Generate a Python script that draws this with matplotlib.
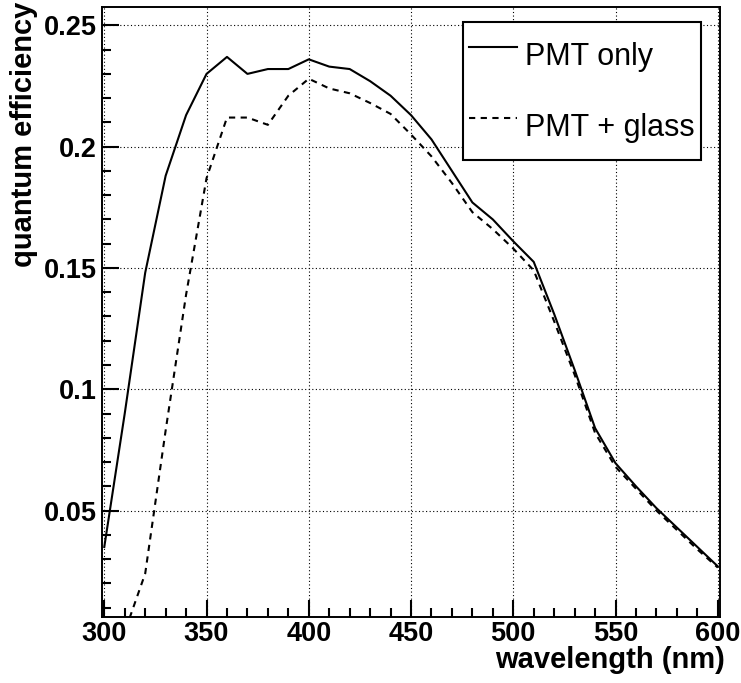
import matplotlib
matplotlib.use('Agg')
import matplotlib.pyplot as plt
from matplotlib.ticker import MultipleLocator, FuncFormatter

plt.rcParams['font.family'] = ['Liberation Sans', 'DejaVu Sans']

# quantum efficiency vs wavelength, bare PMT and PMT behind glass
wavelength = [300, 310, 320, 330, 340, 350, 360, 370, 380, 390, 400,
              410, 420, 430, 440, 450, 460, 470, 480, 490, 500,
              510, 520, 530, 540, 550, 560, 570, 580, 590, 600]
qe_pmt = [0.035, 0.090, 0.148, 0.188, 0.213, 0.230, 0.237, 0.230, 0.232, 0.232, 0.236,
          0.233, 0.232, 0.227, 0.221, 0.213, 0.203, 0.190, 0.177, 0.170, 0.161,
          0.1525, 0.131, 0.108, 0.084, 0.0695, 0.060, 0.051, 0.043, 0.035, 0.027]
qe_glass = [0.0, 0.0, 0.024, 0.083, 0.139, 0.187, 0.212, 0.212, 0.209, 0.221, 0.228,
            0.224, 0.222, 0.218, 0.2135, 0.205, 0.196, 0.185, 0.173, 0.166, 0.158,
            0.149, 0.128, 0.106, 0.082, 0.068, 0.059, 0.050, 0.042, 0.034, 0.0265]
labels = ['PMT only', 'PMT + glass']

fig = plt.figure(figsize=(7.41, 6.83), dpi=100)
ax = fig.add_axes([0.1377, 0.0962, 0.834, 0.894])

ax.plot(wavelength, qe_pmt, color='black', lw=1.5, label=labels[0])
ax.plot(wavelength, qe_glass, color='black', lw=1.5, linestyle=(0, (3, 2.6)), label=labels[1])

ax.set_xlim(298.9, 601.1)
ax.set_ylim(0.006, 0.2577)

ax.xaxis.set_major_locator(MultipleLocator(50))
ax.xaxis.set_minor_locator(MultipleLocator(10))
ax.yaxis.set_major_locator(MultipleLocator(0.05))
ax.yaxis.set_minor_locator(MultipleLocator(0.01))
ax.yaxis.set_major_formatter(FuncFormatter(lambda v, p: '%g' % round(v, 3)))

ax.tick_params(which='both', direction='in', top=False, right=False, width=1.5, color='black')
ax.tick_params(which='major', length=12.5)
ax.tick_params(which='minor', length=6.5)
ax.tick_params(axis='x', which='major', pad=3, labelsize=19.5)
ax.tick_params(axis='y', which='major', pad=3.5, labelsize=19.5)
for lab in ax.get_xticklabels() + ax.get_yticklabels():
    lab.set_fontweight('bold')

for s in ax.spines.values():
    s.set_linewidth(1.4)

ax.grid(True, which='major', color='black', lw=0.8, linestyle=(0, (1, 2.2)))

ax.set_xlabel('wavelength (nm)', fontsize=21, fontweight='bold', ha='right')
ax.xaxis.set_label_coords(1.008, -0.047)
ax.set_ylabel('quantum efficiency', fontsize=21, fontweight='bold', ha='right')
ax.yaxis.set_label_coords(-0.1036, 1.0077)

leg = ax.legend(loc='upper left', bbox_to_anchor=(0.5837, 0.975), borderaxespad=0,
                fontsize=22, fancybox=False, framealpha=1, edgecolor='black',
                handlelength=1.57, handleheight=2.4, handletextpad=0.26,
                labelspacing=0.52, borderpad=0.2)
leg.get_frame().set_linewidth(1.5)

plt.savefig('out.png', dpi=100)
